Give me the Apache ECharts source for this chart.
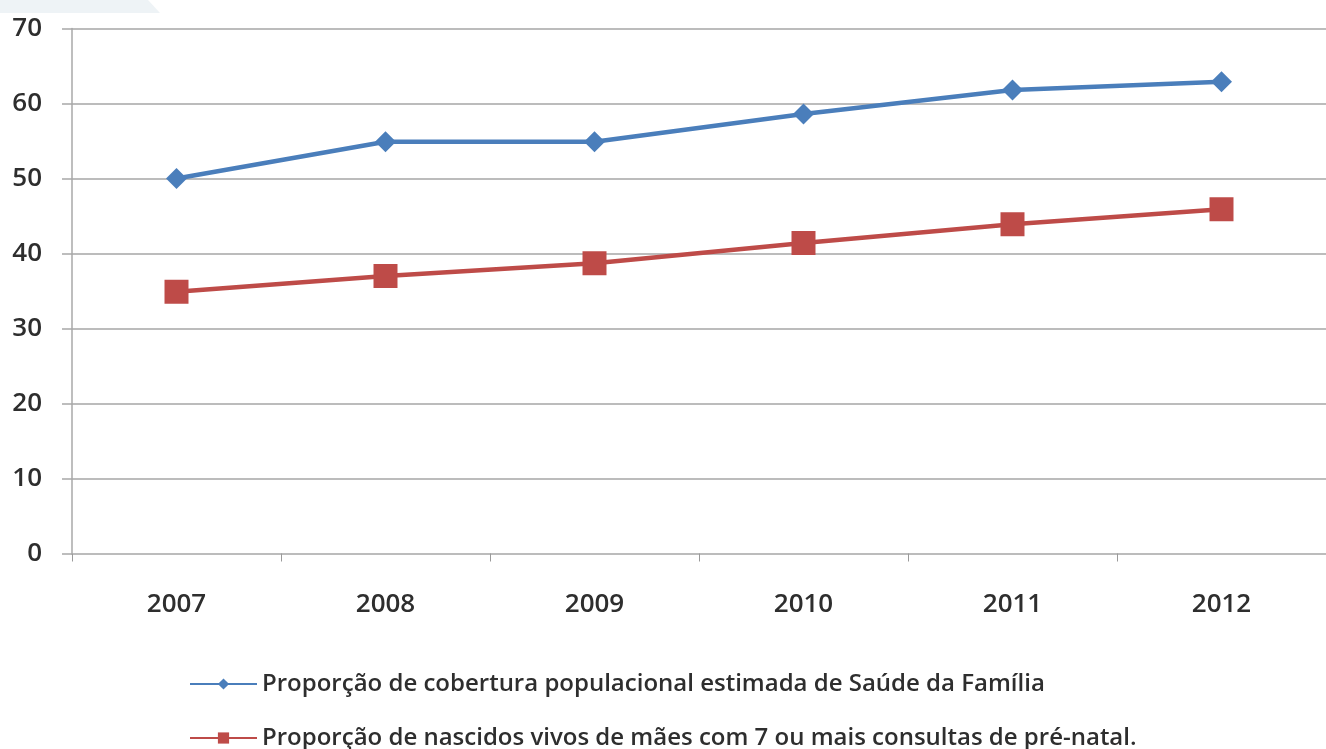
<!DOCTYPE html>
<html>
<head>
<meta charset="utf-8">
<title>Cobertura Saúde da Família e pré-natal, 2007–2012</title>
<script src="https://cdn.jsdelivr.net/npm/echarts@6/dist/echarts.min.js"></script>
<style>
  html, body { margin: 0; padding: 0; background: #ffffff; }
  #chart { width: 1326px; height: 749px; }
</style>
</head>
<body>
<div id="chart"></div>
<script>
// Years on the category axis
const years = ['2007', '2008', '2009', '2010', '2011', '2012'];

// Estimated population coverage of Family Health (%)
const coberturaSF = [50.0, 54.9, 54.9, 58.6, 61.8, 62.9];

// Live births to mothers with 7+ prenatal visits (%)
const nascidosPreNatal = [34.9, 37.0, 38.7, 41.4, 43.9, 45.9];

const seriesNames = [
  'Proporção de cobertura populacional estimada de Saúde da Família',
  'Proporção de nascidos vivos de mães com 7 ou mais consultas de pré-natal.'
];

const BLUE = '#4a7ebb';
const RED = '#be4b48';
const TEXT = '#2e2e2e';
const GRID = '#bcbcbc';
const FONT = '"Open Sans", "Liberation Sans", sans-serif';

// One legend row per series, stacked under the plot
function legendRow(name, top) {
  return {
    orient: 'horizontal',
    left: 184,
    top: top,
    itemWidth: 67,
    itemHeight: 14,
    itemGap: 0,
    data: [name],
    textStyle: {
      fontFamily: FONT,
      fontSize: 24,
      fontWeight: 600,
      color: TEXT,
      lineHeight: 28,
      padding: [0, 0, 0, 0]
    }
  };
}

const chart = echarts.init(document.getElementById('chart'), null, { renderer: 'canvas' });

chart.setOption({
  backgroundColor: '#ffffff',
  animation: false,
  graphic: [
    {
      type: 'polygon',
      shape: { points: [[0, 0], [148, 0], [160, 13], [0, 13]] },
      style: { fill: '#eef3f6' },
      z: -1
    }
  ],
  grid: { left: 72, top: 28.5, width: 1262, height: 525, containLabel: false },
  legend: [
    legendRow(seriesNames[0], 665),
    legendRow(seriesNames[1], 719)
  ],
  xAxis: {
    type: 'category',
    data: years,
    boundaryGap: true,
    axisLine: { show: true, lineStyle: { color: GRID, width: 2 } },
    axisTick: { show: true, alignWithLabel: false, length: 8, lineStyle: { color: '#9a9a9a', width: 1 } },
    axisLabel: {
      margin: 38,
      fontFamily: FONT,
      fontSize: 26,
      fontWeight: 600,
      color: TEXT
    },
    splitLine: { show: false }
  },
  yAxis: {
    type: 'value',
    min: 0,
    max: 70,
    interval: 10,
    axisLine: { show: true, lineStyle: { color: '#a8a8a8', width: 1.5 } },
    axisTick: { show: true, length: 10, lineStyle: { color: '#a8a8a8', width: 1.5 } },
    axisLabel: {
      margin: 30,
      fontFamily: FONT,
      fontSize: 26,
      fontWeight: 600,
      color: TEXT
    },
    splitLine: { show: true, lineStyle: { color: GRID, width: 2 } }
  },
  series: [
    {
      name: seriesNames[0],
      type: 'line',
      data: coberturaSF,
      symbol: 'diamond',
      symbolSize: 21,
      lineStyle: { color: BLUE, width: 4.5 },
      itemStyle: { color: BLUE }
    },
    {
      name: seriesNames[1],
      type: 'line',
      data: nascidosPreNatal,
      symbol: 'rect',
      symbolSize: 24,
      lineStyle: { color: RED, width: 4.5 },
      itemStyle: { color: RED }
    }
  ]
});
</script>
</body>
</html>
